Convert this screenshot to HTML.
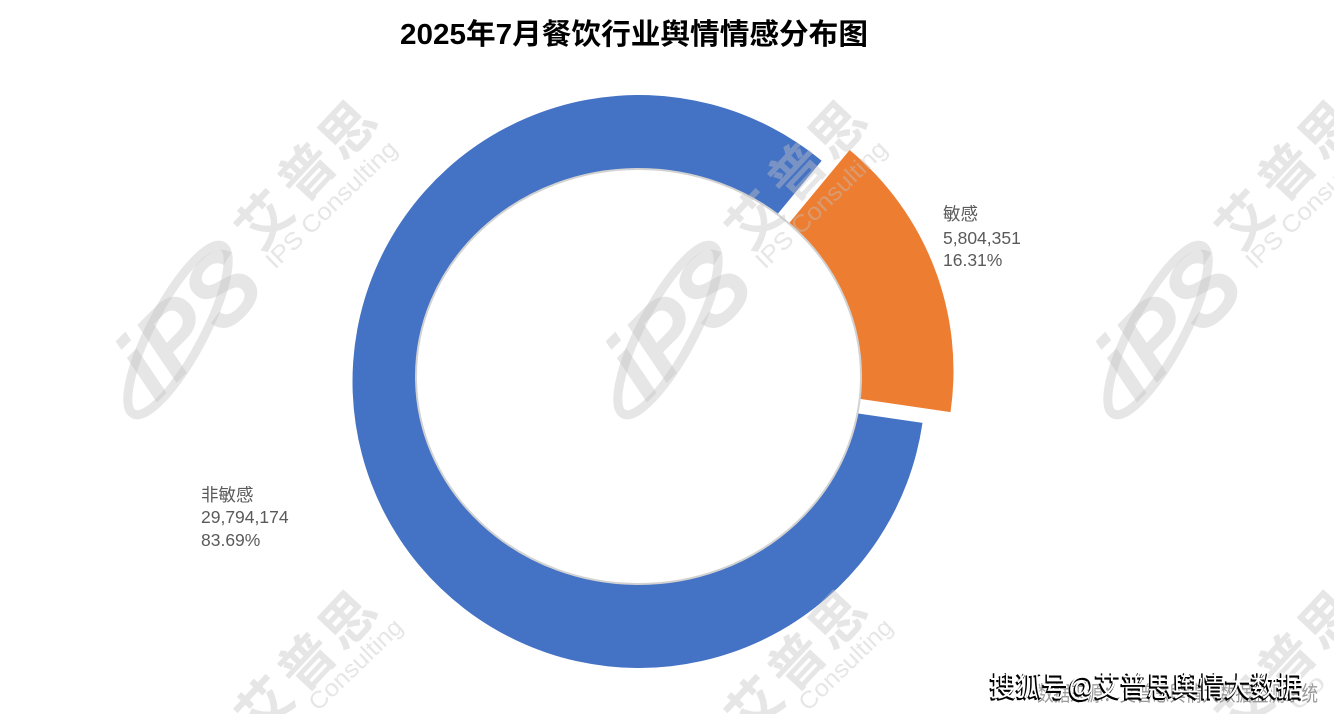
<!DOCTYPE html>
<html>
<head>
<meta charset="utf-8">
<style>
  html,body{margin:0;padding:0;background:#fff;}
  body{width:1334px;height:714px;overflow:hidden;position:relative;}
  svg{display:block;overflow:hidden;}
  .cjk{font-family:"Liberation Sans","Noto Sans CJK SC",sans-serif;}
</style>
</head>
<body>
<svg width="1334" height="714" viewBox="0 0 1334 714" xmlns="http://www.w3.org/2000/svg">
  <defs>
    <clipPath id="frame"><rect x="0" y="0" width="1334" height="714"/></clipPath>
  </defs>
  <rect x="0" y="0" width="1334" height="714" fill="#ffffff"/>

  <!-- Title -->
  <text class="cjk" x="400" y="44" font-size="29" font-weight="bold" fill="#000" textLength="468" lengthAdjust="spacingAndGlyphs">2025年7月餐饮行业舆情情感分布图</text>

  <!-- Donut -->
  <path d="M639 381.5 L922.5 422.86 A286.5 286.5 0 1 1 821.62 160.75 Z" fill="#4472C4"/>
  <path d="M667 370.75 L849.62 150 A286.5 286.5 0 0 1 950.5 412.11 Z" fill="#ED7D31"/>
  <ellipse cx="638.5" cy="376.5" rx="222.5" ry="207.5" fill="#ffffff" stroke="#d2d2d2" stroke-width="2"/>

  <!-- Labels -->
  <g class="cjk" font-size="17.5" fill="#5a5a5a">
    <text x="943" y="220">敏感</text>
    <text x="943" y="244">5,804,351</text>
    <text x="943" y="266">16.31%</text>
    <text x="201" y="501">非敏感</text>
    <text x="201" y="523">29,794,174</text>
    <text x="201" y="546">83.69%</text>
  </g>

  <g clip-path="url(#frame)">
  <!-- Watermarks -->
  <g class="cjk" fill="#c4c4c4" fill-opacity="0.42">
    <!-- unit (0,0) -->
    <text transform="translate(265,220) rotate(-47)" text-anchor="middle" y="19" font-size="54" font-weight="bold">艾</text>
    <text transform="translate(307,172) rotate(-47)" text-anchor="middle" y="19" font-size="54" font-weight="bold">普</text>
    <text transform="translate(348,130) rotate(-47)" text-anchor="middle" y="19" font-size="54" font-weight="bold">思</text>
    <text transform="translate(275,270) rotate(-44)" font-size="24" textLength="172" lengthAdjust="spacingAndGlyphs">IPS Consulting</text>
    <text transform="translate(188,322) rotate(-45)" text-anchor="middle" y="35" font-size="100" font-weight="bold" font-style="italic">iPS</text>
    <!-- unit (490,0) -->
    <text transform="translate(755,220) rotate(-47)" text-anchor="middle" y="19" font-size="54" font-weight="bold">艾</text>
    <text transform="translate(797,172) rotate(-47)" text-anchor="middle" y="19" font-size="54" font-weight="bold">普</text>
    <text transform="translate(838,130) rotate(-47)" text-anchor="middle" y="19" font-size="54" font-weight="bold">思</text>
    <text transform="translate(765,270) rotate(-44)" font-size="24" textLength="172" lengthAdjust="spacingAndGlyphs">IPS Consulting</text>
    <text transform="translate(678,322) rotate(-45)" text-anchor="middle" y="35" font-size="100" font-weight="bold" font-style="italic">iPS</text>
    <!-- unit (980,0) -->
    <text transform="translate(1245,220) rotate(-47)" text-anchor="middle" y="19" font-size="54" font-weight="bold">艾</text>
    <text transform="translate(1287,172) rotate(-47)" text-anchor="middle" y="19" font-size="54" font-weight="bold">普</text>
    <text transform="translate(1328,130) rotate(-47)" text-anchor="middle" y="19" font-size="54" font-weight="bold">思</text>
    <text transform="translate(1255,270) rotate(-44)" font-size="24" textLength="172" lengthAdjust="spacingAndGlyphs">IPS Consulting</text>
    <text transform="translate(1168,322) rotate(-45)" text-anchor="middle" y="35" font-size="100" font-weight="bold" font-style="italic">iPS</text>
    <!-- unit (0,490) -->
    <text transform="translate(265,706) rotate(-47)" text-anchor="middle" y="19" font-size="54" font-weight="bold">艾</text>
    <text transform="translate(307,662) rotate(-47)" text-anchor="middle" y="19" font-size="54" font-weight="bold">普</text>
    <text transform="translate(348,620) rotate(-47)" text-anchor="middle" y="19" font-size="54" font-weight="bold">思</text>
    <!-- unit (490,490) -->
    <text transform="translate(755,706) rotate(-47)" text-anchor="middle" y="19" font-size="54" font-weight="bold">艾</text>
    <text transform="translate(797,662) rotate(-47)" text-anchor="middle" y="19" font-size="54" font-weight="bold">普</text>
    <text transform="translate(838,620) rotate(-47)" text-anchor="middle" y="19" font-size="54" font-weight="bold">思</text>
    <!-- unit (980,490) -->
    <text transform="translate(1245,706) rotate(-47)" text-anchor="middle" y="19" font-size="54" font-weight="bold">艾</text>
    <text transform="translate(1287,662) rotate(-47)" text-anchor="middle" y="19" font-size="54" font-weight="bold">普</text>
    <text transform="translate(1328,620) rotate(-47)" text-anchor="middle" y="19" font-size="54" font-weight="bold">思</text>
    <!-- bottom-row "Consulting" fragments -->
    <text transform="translate(318,712) rotate(-44)" font-size="24" textLength="120" lengthAdjust="spacingAndGlyphs">Consulting</text>
    <text transform="translate(808,712) rotate(-44)" font-size="24" textLength="120" lengthAdjust="spacingAndGlyphs">Consulting</text>
    <text transform="translate(1298,712) rotate(-44)" font-size="24" textLength="40" lengthAdjust="spacingAndGlyphs">Co</text>
  </g>
  <g fill="none" stroke="#c4c4c4" stroke-opacity="0.42" stroke-width="9">
    <ellipse cx="0" cy="0" rx="95" ry="26" transform="translate(178,330) rotate(-62)"/>
    <ellipse cx="0" cy="0" rx="95" ry="26" transform="translate(668,330) rotate(-62)"/>
    <ellipse cx="0" cy="0" rx="95" ry="26" transform="translate(1158,330) rotate(-62)"/>
  </g>
  </g>

  <!-- Source caption -->
  <text class="cjk" x="1037" y="701" font-size="21" fill="#9a9a9a" textLength="281" lengthAdjust="spacingAndGlyphs">数据来源：艾普思舆情大数据监测系统</text>

  <!-- Sohu watermark -->
  <text class="cjk" x="989" y="697.5" font-size="28" fill="#000" stroke="#000" stroke-width="1.2" textLength="313" lengthAdjust="spacingAndGlyphs">搜狐号@艾普思舆情大数据</text>
  <text class="cjk" x="990" y="696" font-size="28" fill="#ffffff" textLength="313" lengthAdjust="spacingAndGlyphs">搜狐号@艾普思舆情大数据</text>
</svg>
</body>
</html>
